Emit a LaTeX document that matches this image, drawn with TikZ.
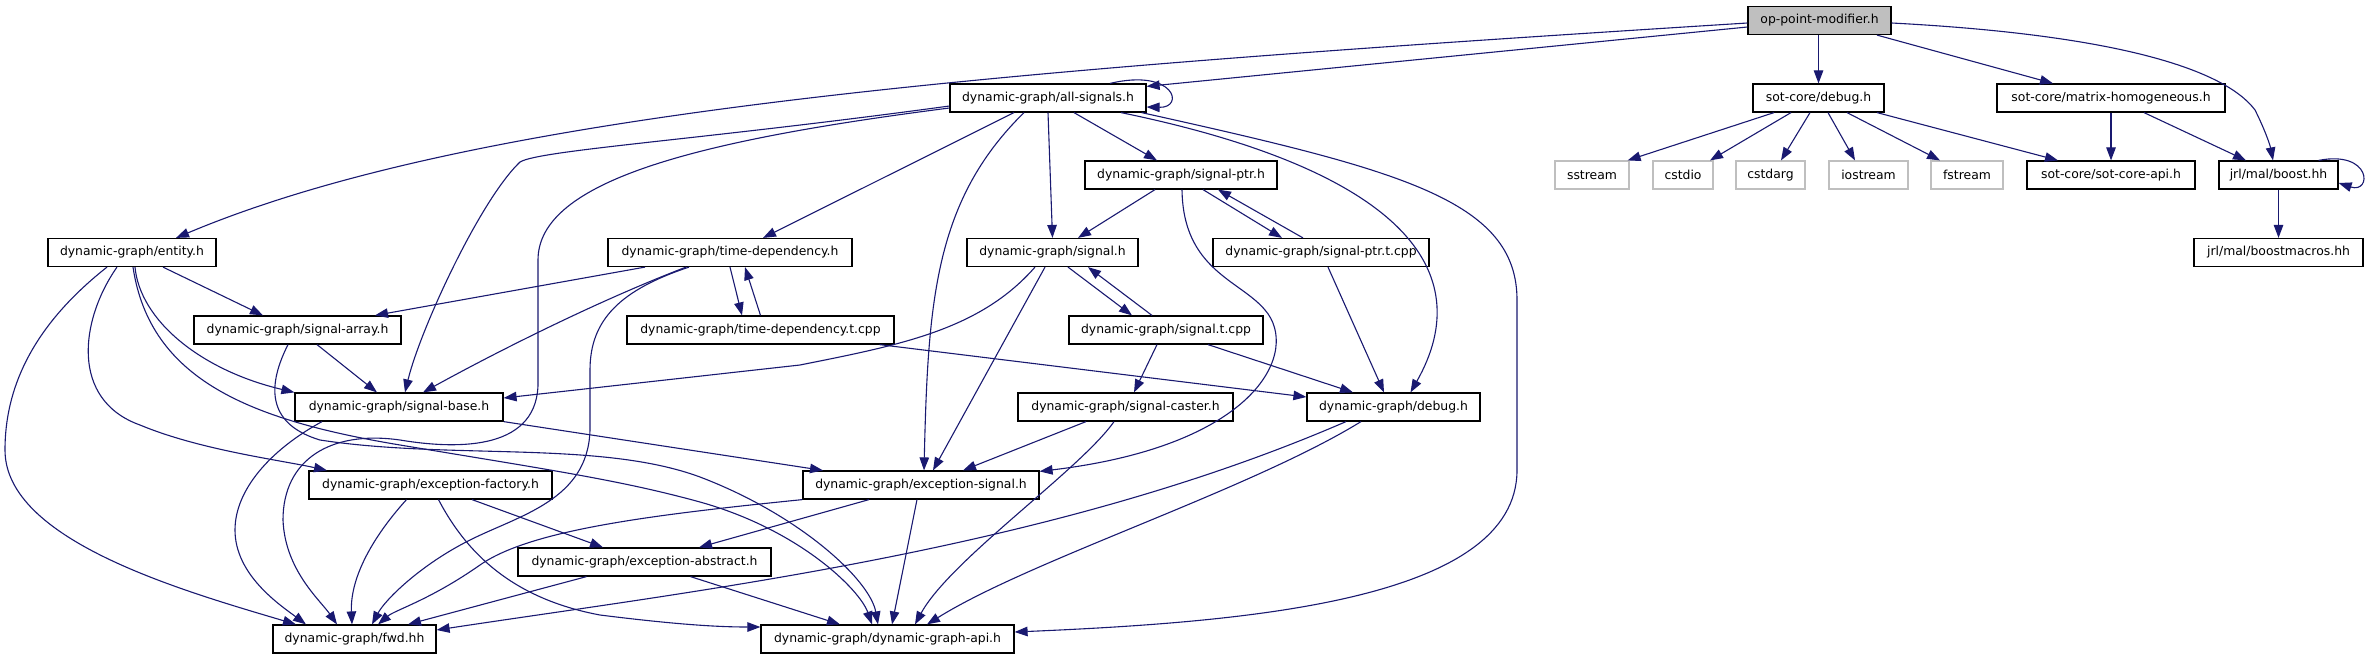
\documentclass[tikz,border=0pt]{standalone}
\usepackage{fontspec}
\newfontfamily\dgfont{DejaVu Sans}
\usetikzlibrary{arrows.meta}
\definecolor{dgblue}{HTML}{191970}
\definecolor{gray75}{HTML}{BFBFBF}
\tikzset{
  box/.style={draw=black, line width=1.2pt, fill=white, minimum height=28pt, inner sep=0pt,
    font=\dgfont\fontsize{12.4}{14}\selectfont, anchor=center},
  rootbox/.style={box, fill=gray75},
  gbox/.style={box, draw=gray75},
  edge/.style={draw=dgblue, line width=1.1pt, -{Triangle[length=13pt,width=9.5pt]}},
}
\begin{document}
\begin{tikzpicture}[x=1pt, y=-1pt]
\useasboundingbox (0,0) rectangle (2368,659);
% row 0
\node[rootbox, minimum width=143pt] (op) at (1819.5,20.5) {op-point-modifier.h};
% row 1
\node[box, minimum width=196pt] (alls) at (1048,98) {dynamic-graph/all-signals.h};
\node[box, minimum width=131pt] (sdebug) at (1818.5,98) {sot-core/debug.h};
\node[box, minimum width=228pt] (mh) at (2111,98) {sot-core/matrix-homogeneous.h};
% row 2
\node[box, minimum width=192pt] (sptr) at (1181,175) {dynamic-graph/signal-ptr.h};
\node[gbox, minimum width=74pt] (sstream) at (1592,175) {sstream};
\node[gbox, minimum width=60pt] (cstdio) at (1683,175) {cstdio};
\node[gbox, minimum width=69pt] (cstdarg) at (1770.5,175) {cstdarg};
\node[gbox, minimum width=79pt] (iostream) at (1868.5,175) {iostream};
\node[gbox, minimum width=72pt] (fstream) at (1967,175) {fstream};
\node[box, minimum width=168pt] (sotapi) at (2111,175) {sot-core/sot-core-api.h};
\node[box, minimum width=119pt] (boost) at (2278.5,175) {jrl/mal/boost.hh};
% row 3
\node[box, minimum width=168pt] (entity) at (132,252.5) {dynamic-graph/entity.h};
\node[box, minimum width=244pt] (td) at (730,252.5) {dynamic-graph/time-dependency.h};
\node[box, minimum width=171pt] (signal) at (1052.5,252.5) {dynamic-graph/signal.h};
\node[box, minimum width=216pt] (sptrt) at (1321,252.5) {dynamic-graph/signal-ptr.t.cpp};
\node[box, minimum width=169pt] (macros) at (2278.5,252.5) {jrl/mal/boostmacros.hh};
% row 4
\node[box, minimum width=207pt] (sarray) at (297.5,330) {dynamic-graph/signal-array.h};
\node[box, minimum width=267pt] (tdt) at (760.5,330) {dynamic-graph/time-dependency.t.cpp};
\node[box, minimum width=194pt] (st) at (1166,330) {dynamic-graph/signal.t.cpp};
% row 5
\node[box, minimum width=208pt] (sbase) at (399,407) {dynamic-graph/signal-base.h};
\node[box, minimum width=215pt] (caster) at (1125.5,407) {dynamic-graph/signal-caster.h};
\node[box, minimum width=173pt] (dgdebug) at (1393.5,407) {dynamic-graph/debug.h};
% row 6
\node[box, minimum width=243pt] (efactory) at (430.5,485) {dynamic-graph/exception-factory.h};
\node[box, minimum width=236pt] (esignal) at (921,485) {dynamic-graph/exception-signal.h};
% row 7
\node[box, minimum width=253pt] (eabstract) at (644.5,562) {dynamic-graph/exception-abstract.h};
% row 8
\node[box, minimum width=163pt] (fwd) at (354.5,639) {dynamic-graph/fwd.hh};
\node[box, minimum width=253pt] (dgapi) at (887.5,639) {dynamic-graph/dynamic-graph-api.h};

% ---- edges from op-point-modifier.h
\draw[edge] ([xshift=-1pt]op.south) -- (sdebug.north);
\draw[edge] ([xshift=57.5pt]op.south) -- ([xshift=-58pt]mh.north);
\draw[edge] ([yshift=-2.5pt]op.east) .. controls (2120,35) and (2225,70) .. (2255,110)
   .. controls (2265,130) and (2270,145) .. ([xshift=-5.5pt]boost.north);
\draw[edge] ([yshift=-6.5pt]op.west) -- ([yshift=-3pt]alls.north east);
\draw[edge] ([yshift=-2.5pt]op.west) .. controls (1000,70) and (480,110) .. ([xshift=44pt]entity.north);

% ---- edges from all-signals.h
\draw[edge] ([xshift=62pt]alls.north) .. controls (1175,68) and (1185,108) .. ([yshift=-9pt]alls.east);
\draw[edge] ([xshift=-34pt]alls.south) -- ([xshift=33pt]td.north);
\draw[edge] (alls.south) -- (signal.north);
\draw[edge] ([xshift=26pt]alls.south) -- ([xshift=-24pt]sptr.north);
\draw[edge] ([xshift=-24pt]alls.south) .. controls (935,200) and (928,300) .. ([xshift=3pt]esignal.north);
\draw[edge] ([xshift=73pt]alls.south) .. controls (1400,170) and (1480,270) .. ([xshift=17pt]dgdebug.north);
\draw[edge] ([xshift=-5pt]alls.south east) .. controls (1400,170) and (1517,200) .. (1517,300)
   -- (1517,470) .. controls (1517,600) and (1250,622) .. ([yshift=7pt]dgapi.east);
\draw[edge] ([yshift=-8pt]alls.west) .. controls (700,140) and (540,150) .. (520,162)
   .. controls (480,200) and (420,330) .. ([xshift=6pt]sbase.north);
\draw[edge] ([yshift=-10pt]alls.west) .. controls (700,140) and (538,180) .. (538,260)
   -- (538,380) .. controls (540,450) and (460,450) .. (400,440)
   .. controls (330,430) and (283,460) .. (283,520)
   .. controls (285,570) and (320,600) .. ([xshift=-17.5pt]fwd.north);

% ---- sot-core/debug.h
\draw[edge] ([xshift=-44.5pt]sdebug.south) -- ([xshift=-2pt]sstream.north east);
\draw[edge] ([xshift=-27.5pt]sdebug.south) -- ([xshift=27pt]cstdio.north);
\draw[edge] ([xshift=-8.5pt]sdebug.south) -- ([xshift=10.5pt]cstdarg.north);
\draw[edge] ([xshift=9.5pt]sdebug.south) -- ([xshift=-13.5pt]iostream.north);
\draw[edge] ([xshift=28.5pt]sdebug.south) -- ([xshift=-27pt]fstream.north);
\draw[edge] ([xshift=58.5pt]sdebug.south) -- ([xshift=-53pt]sotapi.north);
% ---- matrix-homogeneous / boost
\draw[edge] (mh.south) -- (sotapi.north);
\draw[edge] ([xshift=33pt]mh.south) -- ([xshift=-32.5pt]boost.north);
\draw[edge] ([xshift=40pt]boost.north) .. controls (2372,150) and (2372,194) .. ([yshift=-8pt]boost.east);
\draw[edge] (boost.south) -- (macros.north);

% ---- signal-ptr.h
\draw[edge] ([xshift=-26pt]sptr.south) -- ([xshift=25.5pt]signal.north);
\draw[edge] ([xshift=22pt]sptr.south) -- ([xshift=-39pt]sptrt.north);
\draw[edge] ([xshift=-18pt]sptrt.north) -- ([xshift=37pt]sptr.south);
\draw[edge] ([xshift=1pt]sptr.south) .. controls (1183,270) and (1240,280) .. (1265,310)
   .. controls (1300,350) and (1260,445) .. ([yshift=-1pt]esignal.north east);
\draw[edge] ([xshift=7pt]sptrt.south) -- ([xshift=-9.5pt]dgdebug.north);

% ---- signal.h
\draw[edge] ([xshift=-17.5pt]signal.south) .. controls (980,330) and (900,345) .. (800,365)
   -- ([yshift=9pt]sbase.east);
\draw[edge] ([xshift=-7.5pt]signal.south) -- ([xshift=12pt]esignal.north);
\draw[edge] ([xshift=15.5pt]signal.south) -- ([xshift=-34pt]st.north);
\draw[edge] ([xshift=-14pt]st.north) -- ([xshift=35.5pt]signal.south);
\draw[edge] ([xshift=-9pt]st.south) -- ([xshift=8.5pt]caster.north);
\draw[edge] ([xshift=42pt]st.south) -- ([xshift=-40.5pt]dgdebug.north);

% ---- time-dependency
\draw[edge] ([xshift=-85pt]td.south) -- ([xshift=77.5pt]sarray.north);
\draw[edge] ([xshift=-44pt]td.south) .. controls (600,300) and (500,350) .. ([xshift=24pt]sbase.north);
\draw[edge] ([xshift=-41pt]td.south) .. controls (620,290) and (590,320) .. (590,370)
   -- (590,430) .. controls (588,500) and (520,515) .. (470,540)
   .. controls (420,565) and (385,600) .. ([xshift=17.5pt]fwd.north);
\draw[edge] (td.south) -- ([xshift=-18.5pt]tdt.north);
\draw[edge] (tdt.north) -- ([xshift=15pt]td.south);
\draw[edge] ([xshift=119pt]tdt.south) -- ([yshift=10pt]dgdebug.west);

% ---- entity.h
\draw[edge] ([xshift=31pt]entity.south) -- ([xshift=-34.5pt]sarray.north);
\draw[edge] ([xshift=-25pt]entity.south) .. controls (40,320) and (5,380) .. (5,450)
   .. controls (5,540) and (180,590) .. ([xshift=-58.5pt]fwd.north);
\draw[edge] ([xshift=-15pt]entity.south) .. controls (80,320) and (70,400) .. (140,425)
   .. controls (200,450) and (280,460) .. ([xshift=-103.5pt]efactory.north);
\draw[edge] ([xshift=3pt]entity.south) .. controls (140,320) and (200,370) .. (sbase.north west);
\draw[edge] ([xshift=1pt]entity.south) .. controls (150,380) and (250,420) .. (400,445)
   .. controls (550,470) and (620,480) .. (700,502)
   .. controls (800,530) and (860,590) .. ([xshift=-15.5pt]dgapi.north);

% ---- signal-array.h
\draw[edge] ([xshift=19.5pt]sarray.south) -- ([xshift=-22pt]sbase.north);
\draw[edge] ([xshift=-9.5pt]sarray.south) .. controls (265,390) and (270,425) .. (320,440)
   .. controls (450,460) and (600,440) .. (700,477)
   .. controls (800,515) and (870,580) .. ([xshift=-9.5pt]dgapi.north);

% ---- signal-base.h
\draw[edge] ([xshift=-77pt]sbase.south) .. controls (270,450) and (235,490) .. (235,530)
   .. controls (235,575) and (280,605) .. ([xshift=-48.5pt]fwd.north);
\draw[edge] (sbase.south east) -- ([xshift=-98pt]esignal.north);

% ---- exception-factory.h
\draw[edge] ([xshift=-24pt]efactory.south) .. controls (370,540) and (350,580) .. ([xshift=-2.5pt]fwd.north);
\draw[edge] ([xshift=41.5pt]efactory.south) -- ([xshift=-41.5pt]eabstract.north);
\draw[edge] ([xshift=8pt]efactory.south) .. controls (470,560) and (520,600) .. (600,615)
   .. controls (680,625) and (720,627) .. ([yshift=12pt]dgapi.west);

% ---- exception-abstract.h
\draw[edge] ([xshift=-58pt]eabstract.south) -- ([xshift=53.5pt]fwd.north);
\draw[edge] ([xshift=46pt]eabstract.south) -- ([xshift=-47.5pt]dgapi.north);

% ---- exception-signal.h
\draw[edge] ([xshift=-52pt]esignal.south) -- ([xshift=54.5pt]eabstract.north);
\draw[edge] (esignal.south west) .. controls (650,515) and (530,530) .. (480,565)
   .. controls (430,600) and (395,610) .. ([xshift=23.5pt]fwd.north);
\draw[edge] ([xshift=-4pt]esignal.south) -- ([xshift=4.5pt]dgapi.north);

% ---- signal-caster.h
\draw[edge] ([xshift=-39.5pt]caster.south) -- ([xshift=42pt]esignal.north);
\draw[edge] ([xshift=-11.5pt]caster.south) .. controls (1080,470) and (950,560) .. ([xshift=27.5pt]dgapi.north);

% ---- dynamic-graph/debug.h
\draw[edge] ([xshift=-47.5pt]dgdebug.south) .. controls (1050,550) and (700,590) .. ([yshift=9pt]fwd.east);
\draw[edge] ([xshift=-32.5pt]dgdebug.south) .. controls (1250,490) and (1030,560) .. ([xshift=39.5pt]dgapi.north);
\end{tikzpicture}
\end{document}
